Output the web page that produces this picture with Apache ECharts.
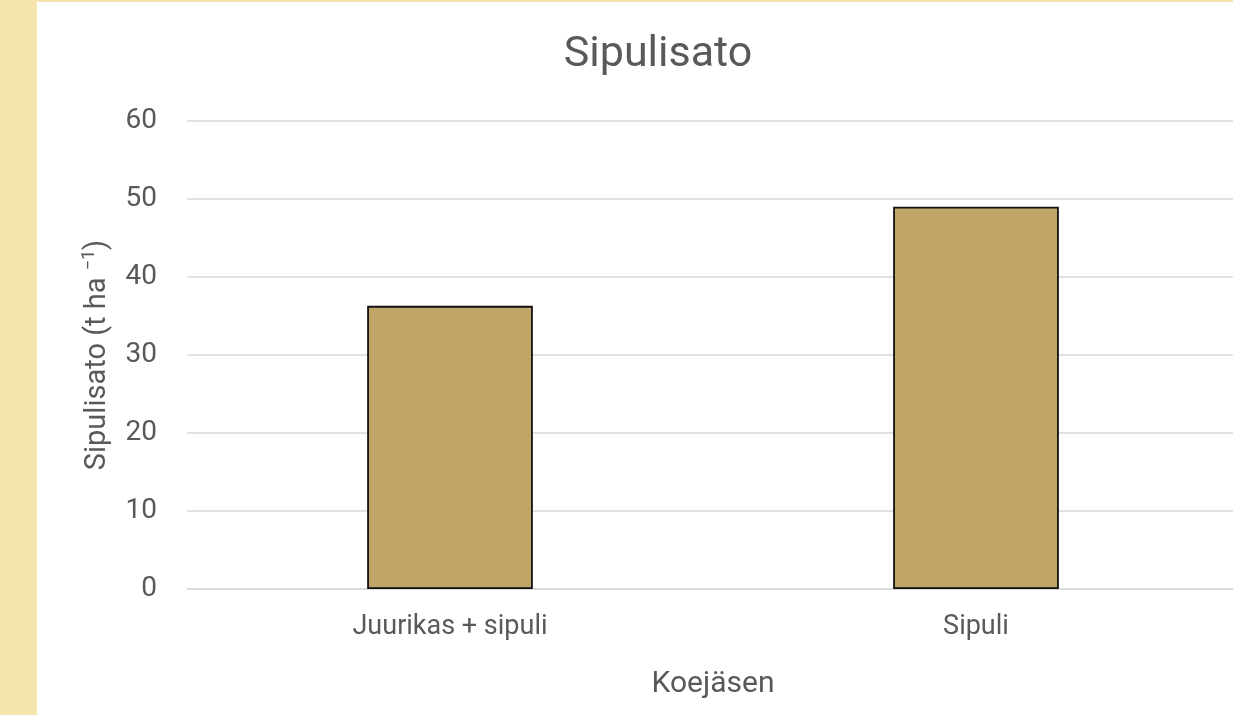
<!DOCTYPE html>
<html><head><meta charset="utf-8">
<script src="https://cdn.jsdelivr.net/npm/echarts@6/dist/echarts.min.js"></script>
<style>
html,body{margin:0;padding:0;background:#F3E5AB;width:1233px;height:715px;overflow:hidden;position:relative;}
#c{position:absolute;left:37px;top:2px;width:1202px;height:713px;background:#fff;}
</style></head><body>
<div id="c"></div>
<script>
const categories = ['Juurikas + sipuli', 'Sipuli'];
const yieldValues = [36.3, 49.0];
const yTicks = [0, 10, 20, 30, 40, 50, 60];

const chart = echarts.init(document.getElementById('c'), null, {renderer: 'canvas'});
const gray = '#595959';
const font = 'Roboto, "Noto Sans", sans-serif';
chart.setOption({
  animation: false,
  backgroundColor: '#fff',
  title: {
    text: 'Sipulisato', left: 616, top: 27, textAlign: 'center',
    textStyle: {fontSize: 43, fontWeight: 'normal', color: gray, fontFamily: font}
  },
  grid: {left: 150, right: 0, top: 119, bottom: 126, containLabel: false},
  xAxis: {
    type: 'category', data: categories,
    name: 'Koejäsen', nameLocation: 'middle', nameGap: 80,
    nameTextStyle: {fontSize: 30, color: gray, fontFamily: font, verticalAlign: 'top'},
    axisLine: {lineStyle: {color: '#d9d9d9', width: 1.5}},
    axisTick: {show: false},
    axisLabel: {fontSize: 27, color: gray, margin: 25, fontFamily: font}
  },
  yAxis: {
    type: 'value', min: yTicks[0], max: yTicks[yTicks.length - 1], interval: 10,
    name: '{a|Sipulisato (t ha }{s|−1}{a|)}', nameLocation: 'middle', nameGap: 72,
    nameTextStyle: {
      color: gray, fontFamily: font, fontSize: 29,
      rich: {
        a: {fontSize: 29, color: gray, fontFamily: font, lineHeight: 35},
        s: {fontSize: 18, color: gray, fontFamily: font, lineHeight: 35, verticalAlign: 'top', padding: [0, 0, 14, 0]}
      }
    },
    axisLine: {show: false}, axisTick: {show: false},
    axisLabel: {fontSize: 28, color: gray, margin: 30, fontFamily: font},
    splitLine: {lineStyle: {color: '#d9d9d9', width: 1.5}}
  },
  series: [{
    type: 'bar', data: yieldValues, barWidth: '31.5%',
    itemStyle: {color: '#BFA667', borderColor: '#111', borderWidth: 1.8}
  }]
});
</script></body></html>
